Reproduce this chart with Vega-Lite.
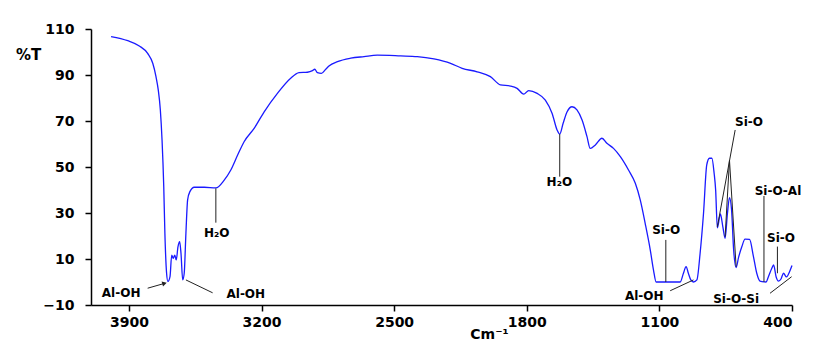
{
  "$schema": "https://vega.github.io/schema/vega-lite/v6.json",
  "autosize": {"type": "none"},
  "padding": {"left": 91, "top": 29, "right": 31, "bottom": 40},
  "width": 701,
  "height": 276,
  "background": "white",
  "config": {
    "view": {"stroke": null},
    "font": "DejaVu Sans",
    "axis": {"grid": false, "domainColor": "black", "domainWidth": 1.5, "tickColor": "black", "tickWidth": 1.5, "tickSize": 6, "labelFont": "DejaVu Sans", "labelFontWeight": "bold", "labelFontSize": 14, "labelColor": "black", "titleFont": "DejaVu Sans", "titleFontWeight": "bold", "titleColor": "black"}
  },
  "datasets": {
    "spectrum": [
      {"wn": 3994, "t": 106.7}, {"wn": 3906, "t": 104.9}, {"wn": 3845, "t": 102.6}, {"wn": 3801, "t": 99.4}, {"wn": 3774, "t": 95.1}, {"wn": 3757, "t": 89.3}, {"wn": 3745, "t": 83.5}, {"wn": 3734, "t": 74.8}, {"wn": 3725, "t": 61.7}, {"wn": 3716, "t": 41.4}, {"wn": 3710, "t": 21.2}, {"wn": 3701, "t": 3.8}, {"wn": 3694, "t": 0.2}, {"wn": 3683, "t": 2.3}, {"wn": 3674, "t": 11.7}, {"wn": 3666, "t": 10.3}, {"wn": 3658, "t": 11.7}, {"wn": 3650, "t": 9.6}, {"wn": 3641, "t": 15.3}, {"wn": 3632, "t": 17.5}, {"wn": 3625, "t": 12.5}, {"wn": 3616, "t": 0.9}, {"wn": 3608, "t": 3.8}, {"wn": 3599, "t": 21.2}, {"wn": 3590, "t": 35.7}, {"wn": 3578, "t": 39.3}, {"wn": 3555, "t": 41.2}, {"wn": 3502, "t": 41.2}, {"wn": 3441, "t": 40.9}, {"wn": 3397, "t": 44.3}, {"wn": 3362, "t": 48.7}, {"wn": 3326, "t": 55.2}, {"wn": 3292, "t": 61}, {"wn": 3239, "t": 66.8}, {"wn": 3186, "t": 74}, {"wn": 3116, "t": 82}, {"wn": 3046, "t": 88.6}, {"wn": 3002, "t": 91}, {"wn": 2958, "t": 91.2}, {"wn": 2931, "t": 91.9}, {"wn": 2919, "t": 92.5}, {"wn": 2905, "t": 91}, {"wn": 2884, "t": 90.7}, {"wn": 2861, "t": 92.5}, {"wn": 2844, "t": 93.9}, {"wn": 2799, "t": 95.8}, {"wn": 2729, "t": 97.3}, {"wn": 2659, "t": 98}, {"wn": 2589, "t": 98.6}, {"wn": 2466, "t": 98.3}, {"wn": 2378, "t": 98}, {"wn": 2290, "t": 97}, {"wn": 2202, "t": 95.1}, {"wn": 2141, "t": 92.9}, {"wn": 2062, "t": 91.4}, {"wn": 1992, "t": 89.3}, {"wn": 1939, "t": 85.7}, {"wn": 1886, "t": 85.2}, {"wn": 1851, "t": 84.2}, {"wn": 1816, "t": 81.7}, {"wn": 1790, "t": 83.2}, {"wn": 1745, "t": 82}, {"wn": 1702, "t": 79.1}, {"wn": 1666, "t": 73.3}, {"wn": 1640, "t": 66.1}, {"wn": 1626, "t": 64.3}, {"wn": 1608, "t": 69}, {"wn": 1587, "t": 74}, {"wn": 1561, "t": 76.2}, {"wn": 1535, "t": 74.8}, {"wn": 1508, "t": 70.4}, {"wn": 1482, "t": 63.2}, {"wn": 1465, "t": 58.1}, {"wn": 1438, "t": 59.6}, {"wn": 1403, "t": 62.5}, {"wn": 1377, "t": 60.3}, {"wn": 1342, "t": 58.1}, {"wn": 1306, "t": 54.5}, {"wn": 1263, "t": 48.7}, {"wn": 1227, "t": 42.9}, {"wn": 1201, "t": 35.7}, {"wn": 1175, "t": 25.5}, {"wn": 1148, "t": 13.9}, {"wn": 1131, "t": 5.2}, {"wn": 1117, "t": 0}, {"wn": 990, "t": 0}, {"wn": 973, "t": 3.8}, {"wn": 959, "t": 6.7}, {"wn": 947, "t": 3.8}, {"wn": 934, "t": 0.9}, {"wn": 920, "t": 0}, {"wn": 902, "t": 0.9}, {"wn": 885, "t": 12.5}, {"wn": 867, "t": 29.9}, {"wn": 850, "t": 50.9}, {"wn": 836, "t": 53.8}, {"wn": 823, "t": 53.8}, {"wn": 811, "t": 47.3}, {"wn": 803, "t": 40}, {"wn": 794, "t": 23.5}, {"wn": 778, "t": 29.6}, {"wn": 765, "t": 24}, {"wn": 753, "t": 19}, {"wn": 741, "t": 29.6}, {"wn": 730, "t": 36.7}, {"wn": 719, "t": 31.3}, {"wn": 708, "t": 13.9}, {"wn": 695, "t": 6.3}, {"wn": 682, "t": 10.7}, {"wn": 665, "t": 15.3}, {"wn": 648, "t": 18.6}, {"wn": 624, "t": 18.5}, {"wn": 604, "t": 11.3}, {"wn": 586, "t": 3.8}, {"wn": 569, "t": 0.4}, {"wn": 537, "t": 0}, {"wn": 525, "t": 2.2}, {"wn": 507, "t": 5.9}, {"wn": 497, "t": 7.4}, {"wn": 484, "t": 2.3}, {"wn": 471, "t": 0.4}, {"wn": 458, "t": 1.3}, {"wn": 445, "t": 3.8}, {"wn": 429, "t": 2.2}, {"wn": 413, "t": 4.5}, {"wn": 400, "t": 7.2}
    ],
    "leaders": [
      {"wn": 3801, "t": -2.7, "wn2": 3712, "t2": -0.6},
      {"wn": 3599, "t": 0.9, "wn2": 3458, "t2": -4.7},
      {"wn": 3441, "t": 40.7, "wn2": 3441, "t2": 25.8},
      {"wn": 1626, "t": 64.3, "wn2": 1626, "t2": 45.8},
      {"wn": 1066, "t": 18.3, "wn2": 1066, "t2": 0},
      {"wn": 1043, "t": -3.8, "wn2": 920, "t2": 0.9},
      {"wn": 700, "t": 66.1, "wn2": 794, "t2": 24},
      {"wn": 730, "t": 53, "wn2": 753, "t2": 19.7},
      {"wn": 730, "t": 53, "wn2": 695, "t2": 6.7},
      {"wn": 548, "t": 37.4, "wn2": 548, "t2": 0},
      {"wn": 477, "t": 15.4, "wn2": 477, "t2": 3.8},
      {"wn": 516, "t": -4.9, "wn2": 402, "t2": 2.3}
    ],
    "labels": [
      {"label": "Al-OH", "wn": 3941, "t": -4.8},
      {"label": "Al-OH", "wn": 3283, "t": -5.2},
      {"label": "H₂O", "wn": 3436, "t": 21.2},
      {"label": "H₂O", "wn": 1628, "t": 43.3},
      {"label": "Si-O", "wn": 1064, "t": 22.6},
      {"label": "Al-OH", "wn": 1180, "t": -6},
      {"label": "Si-O", "wn": 627, "t": 69.7},
      {"label": "Si-O-Al", "wn": 474, "t": 39.6},
      {"label": "Si-O", "wn": 458, "t": 19},
      {"label": "Si-O-Si", "wn": 695, "t": -7.5}
    ],
    "heads": [
      {"wn": 3712, "t": -0.6}
    ]
  },
  "encoding": {
    "x": {
      "field": "wn", "type": "quantitative",
      "scale": {"domain": [400, 4100], "reverse": true, "nice": false, "zero": false},
      "axis": {"values": [3900, 3200, 2500, 1800, 1100, 400], "format": "d", "labelPadding": 4, "title": "Cm⁻¹", "titleFontSize": 14, "titleX": 398, "titleY": 33, "titleBaseline": "alphabetic", "titleAnchor": "middle"}
    },
    "y": {
      "field": "t", "type": "quantitative",
      "scale": {"domain": [-10, 110], "nice": false, "zero": false},
      "axis": {"values": [-10, 10, 30, 50, 70, 90, 110], "labelPadding": 11, "title": "%T", "titleAngle": 0, "titleFontSize": 15, "titleX": -63, "titleY": 25, "titleAlign": "center", "titleBaseline": "middle"}
    }
  },
  "layer": [
    {
      "data": {"name": "spectrum"},
      "mark": {"type": "line", "color": "#1a1aff", "strokeWidth": 1.3, "interpolate": "monotone"}
    },
    {
      "data": {"name": "leaders"},
      "mark": {"type": "rule", "color": "#222222", "strokeWidth": 1},
      "encoding": {"x2": {"field": "wn2"}, "y2": {"field": "t2"}}
    },
    {
      "data": {"name": "heads"},
      "mark": {"type": "point", "shape": "triangle-right", "filled": true, "color": "#222222", "size": 28, "angle": -16, "opacity": 1}
    },
    {
      "data": {"name": "labels"},
      "mark": {"type": "text", "font": "DejaVu Sans", "fontWeight": "bold", "fontSize": 12, "color": "black", "align": "center", "baseline": "middle"},
      "encoding": {"text": {"field": "label", "type": "nominal"}}
    }
  ]
}
